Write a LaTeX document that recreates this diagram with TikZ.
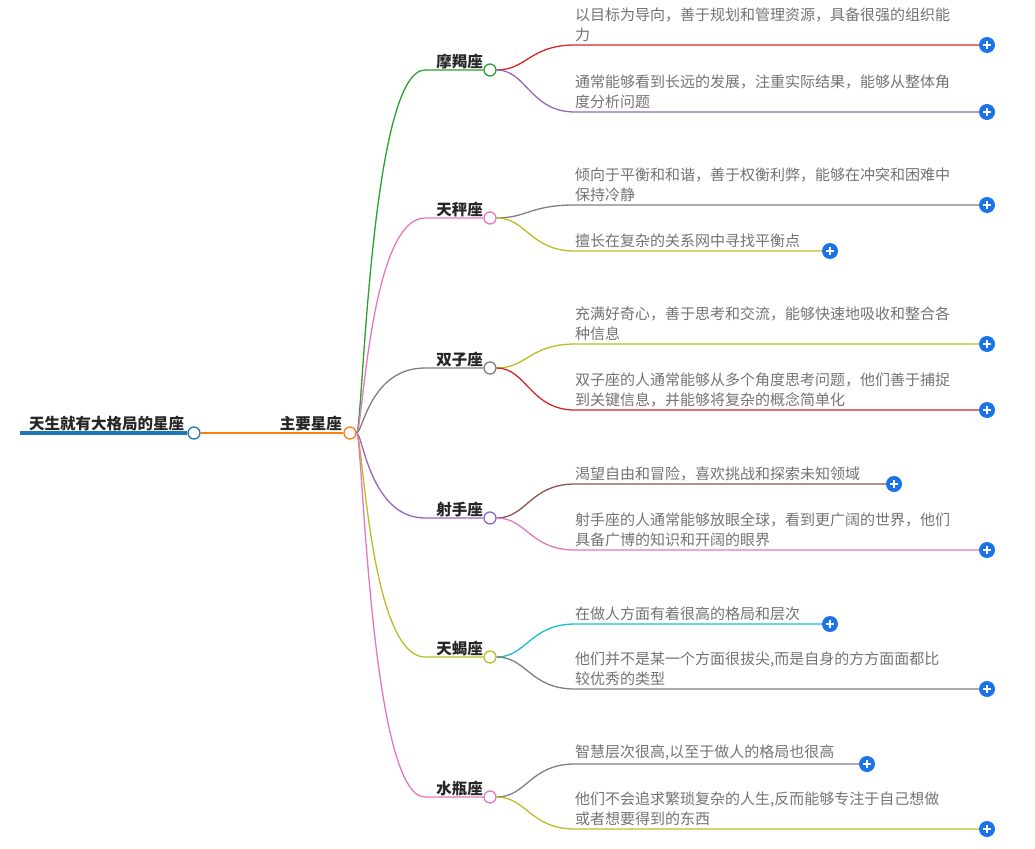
\documentclass[tikz,border=0pt]{standalone}
\usepackage{fontspec}
\setmainfont{Noto Sans CJK SC}
\usetikzlibrary{positioning,calc}
\definecolor{tblue}{HTML}{1F77B4}
\definecolor{torange}{HTML}{FF7F0E}
\definecolor{tgreen}{HTML}{2CA02C}
\definecolor{tred}{HTML}{D62728}
\definecolor{tpurple}{HTML}{9467BD}
\definecolor{tbrown}{HTML}{8C564B}
\definecolor{tpink}{HTML}{E377C2}
\definecolor{tgray}{HTML}{7F7F7F}
\definecolor{tolive}{HTML}{BCBD22}
\definecolor{tcyan}{HTML}{17BECF}
\definecolor{plusblue}{HTML}{1A73E8}
\tikzset{
  dot/.style={draw, circle, fill=white, line width=1.3pt, minimum size=12pt, inner sep=0pt},
  plus/.style={circle, fill=plusblue, minimum size=16pt, inner sep=0pt,
    path picture={\draw[white, line width=1.6pt]
      ([xshift=-4pt]path picture bounding box.center) -- ([xshift=4pt]path picture bounding box.center)
      ([yshift=-4pt]path picture bounding box.center) -- ([yshift=4pt]path picture bounding box.center);}},
  topic/.style={font=\fontsize{15.5}{18}\selectfont\bfseries, text=black!85, inner sep=1pt},
  leaftext/.style={font=\fontsize{15}{20}\selectfont, text=black!55, align=left, inner sep=0pt},
  edge/.style={line width=1.3pt}
}
% leaf: parent, name, y, end x, colour, text
\newcommand{\leaf}[6]{
  \coordinate (#2-s) at (575,#3);
  \node[plus] (#2-p) at (#4+12,#3) {};
  \node[leaftext, anchor=south west] at ([yshift=3pt]#2-s) {#6};
  \draw[#5, edge] (#1.east) .. controls +(30,0) and +(-45,0) .. (#2-s) -- (#2-p.west);
}
% child: name, y, colour, label
\newcommand{\child}[4]{
  \node[dot, draw=#3] (#1) at (490,#2) {};
  \coordinate (#1-s) at (425,#2);
  \node[topic, anchor=south east] at (484,#2) {#4};
  \draw[#3, edge] (main.east) .. controls +(6,0) and +(-55,0) .. (#1-s) -- (#1.west);
}
\begin{document}
\begin{tikzpicture}[x=1pt, y=-1pt]
\useasboundingbox (0,0) rectangle (1035,848);
\node[dot, draw=tblue] (root) at (194,433) {};
\node[dot, draw=torange] (main) at (350,433) {};
\draw[tblue, line width=3.5pt] (20,433) -- (root.west);
\node[topic, anchor=south west] at (28,432) {天生就有大格局的星座};
\node[topic, anchor=south east] at (343,432) {主要星座};
\draw[torange, line width=2pt] (root.east) -- (main.west);

\child{mojie}{70}{tgreen}{摩羯座}
\child{tianping}{218}{tpink}{天秤座}
\child{shuangzi}{368}{tgray}{双子座}
\child{sheshou}{518}{tpurple}{射手座}
\child{tianxie}{657}{tolive}{天蝎座}
\child{shuiping}{797}{tpink}{水瓶座}

\leaf{mojie}{mj1}{45}{975}{tred}{以目标为导向，善于规划和管理资源，具备很强的组织能\\力}
\leaf{mojie}{mj2}{112}{975}{tpurple}{通常能够看到长远的发展，注重实际结果，能够从整体角\\度分析问题}
\leaf{tianping}{tp1}{205}{975}{tgray}{倾向于平衡和和谐，善于权衡利弊，能够在冲突和困难中\\保持冷静}
\leaf{tianping}{tp2}{251}{818}{tolive}{擅长在复杂的关系网中寻找平衡点}
\leaf{shuangzi}{sz1}{344}{975}{tolive}{充满好奇心，善于思考和交流，能够快速地吸收和整合各\\种信息}
\leaf{shuangzi}{sz2}{410}{975}{tred}{双子座的人通常能够从多个角度思考问题，他们善于捕捉\\到关键信息，并能够将复杂的概念简单化}
\leaf{sheshou}{ss1}{484}{882}{tbrown}{渴望自由和冒险，喜欢挑战和探索未知领域}
\leaf{sheshou}{ss2}{550}{975}{tpink}{射手座的人通常能够放眼全球，看到更广阔的世界，他们\\具备广博的知识和开阔的眼界}
\leaf{tianxie}{tx1}{624}{818}{tcyan}{在做人方面有着很高的格局和层次}
\leaf{tianxie}{tx2}{689}{975}{tgray}{他们并不是某一个方面很拔尖,而是自身的方方面面都比\\较优秀的类型}
\leaf{shuiping}{sp1}{764}{855}{tgray}{智慧层次很高,以至于做人的格局也很高}
\leaf{shuiping}{sp2}{829}{975}{tolive}{他们不会追求繁琐复杂的人生,反而能够专注于自己想做\\或者想要得到的东西}
\end{tikzpicture}
\end{document}
